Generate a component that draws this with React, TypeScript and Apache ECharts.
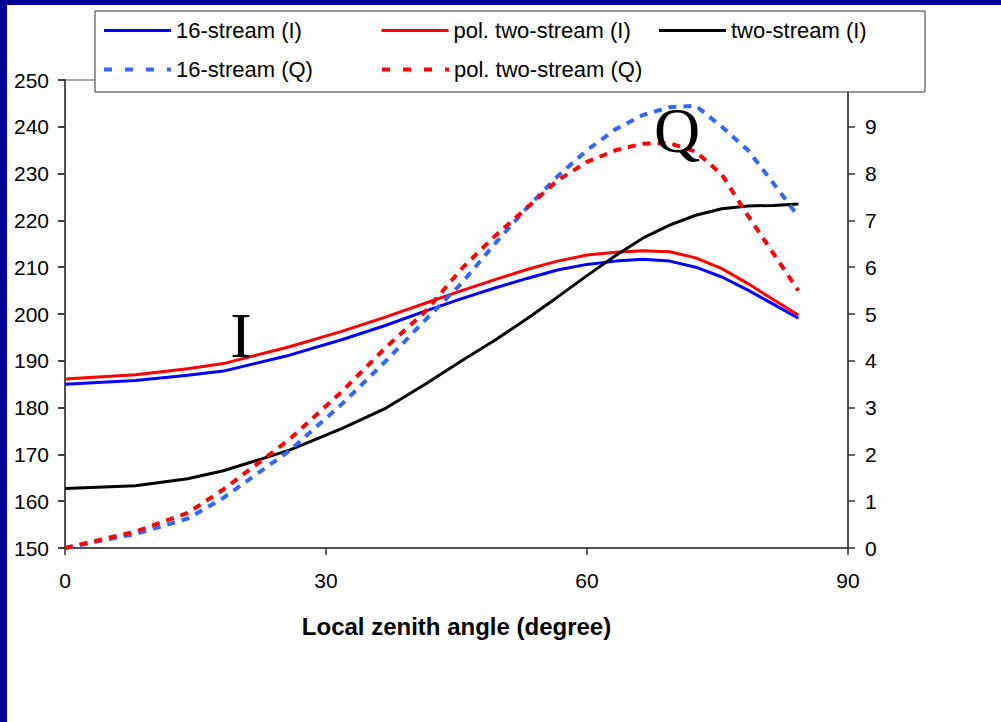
import React, { useEffect, useRef } from "react";
import * as echarts from "echarts";

// Local zenith angle (degree)
const ANGLES = [0, 8.1, 14.1, 18.2, 25.8, 31.8, 36.9, 41.4, 45.6, 49.5, 53.1, 56.6, 60, 63.3, 66.4, 69.5, 72.5, 75.5, 78.5, 81.4, 84.3];

// Intensity I (left axis)
const I_16STREAM = [185.0, 185.8, 186.9, 187.8, 191.2, 194.5, 197.6, 200.6, 203.3, 205.6, 207.6, 209.4, 210.6, 211.3, 211.7, 211.3, 210.0, 207.9, 205.1, 202.1, 199.1];
const I_POL_TWOSTREAM = [186.1, 187.0, 188.3, 189.4, 193.0, 196.3, 199.4, 202.3, 205.0, 207.4, 209.5, 211.3, 212.6, 213.2, 213.5, 213.3, 212.0, 209.7, 206.5, 203.1, 199.8];
const I_TWOSTREAM = [162.7, 163.3, 164.8, 166.5, 170.9, 175.5, 179.9, 185.0, 190.0, 194.5, 199.0, 203.6, 208.2, 212.5, 216.2, 219.0, 221.1, 222.5, 223.1, 223.2, 223.5];

// Polarization Q (right axis)
const Q_16STREAM = [0, 0.30, 0.63, 1.07, 2.08, 3.07, 4.00, 4.87, 5.66, 6.52, 7.27, 7.94, 8.50, 8.95, 9.25, 9.42, 9.45, 9.00, 8.50, 7.80, 7.08];
const Q_POL_TWOSTREAM = [0, 0.35, 0.75, 1.25, 2.32, 3.34, 4.29, 5.05, 5.97, 6.68, 7.27, 7.85, 8.25, 8.50, 8.64, 8.65, 8.47, 7.98, 7.10, 6.30, 5.50];

const SERIES_NAMES = ["16-stream (I)", "pol. two-stream (I)", "two-stream (I)", "16-stream (Q)", "pol. two-stream (Q)"];
const SERIES_COLORS = ["#0000FF", "#FF0000", "#000000", "#3366FF", "#FF0000"];
const X_TITLE = "Local zenith angle (degree)";

const SANS = "'Liberation Sans', Arial, sans-serif";
const SERIF = "'Liberation Serif', 'Times New Roman', serif";

export default function App() {
  const ref = useRef<HTMLDivElement>(null);

  useEffect(() => {
    document.body.style.margin = "0";
    const chart = echarts.init(ref.current!, null, { renderer: "svg" });
    const mk = (arr: number[]) => ANGLES.map((a, i) => [a, arr[i]]);
    const axisLineStyle = { color: "#333", width: 1.5 };
    const labelStyle = { fontSize: 21, color: "#000", fontFamily: SANS };
    const solid = (i: number) => ({ color: SERIES_COLORS[i], width: 3 });
    const dashed = (i: number) => ({ color: SERIES_COLORS[i], width: 4, type: [8, 7] });

    chart.setOption({
      animation: false,
      backgroundColor: "transparent",
      grid: {
        left: 65,
        right: 153,
        top: 80,
        bottom: 174,
        show: true,
        borderColor: "#555",
        borderWidth: 1,
        backgroundColor: "transparent",
      },
      legend: {
        left: 95,
        top: 11,
        width: 840,
        orient: "horizontal",
        padding: [7, 4, 10, 7],
        itemGap: 14,
        itemWidth: 67,
        itemHeight: 1,
        itemStyle: { opacity: 0 },
        lineStyle: { width: 3 },
        backgroundColor: "#fff",
        borderColor: "#333",
        borderWidth: 1,
        borderRadius: 0,
        textStyle: { fontSize: 22, color: "#000", fontFamily: SANS, width: 190, lineHeight: 25 },
        data: SERIES_NAMES.map((name, i) => ({
          name,
          lineStyle: i < 3 ? { width: 3 } : { width: 4, type: [8, 13] },
        })),
      },
      xAxis: {
        type: "value",
        min: 0,
        max: 90,
        interval: 30,
        axisLine: { show: true, onZero: false, lineStyle: axisLineStyle },
        axisTick: { show: true, length: 7, lineStyle: axisLineStyle },
        axisLabel: { ...labelStyle, margin: 22 },
        splitLine: { show: false },
        name: X_TITLE,
        nameLocation: "middle",
        nameGap: 66,
        nameTextStyle: { fontSize: 24, fontWeight: "bold", color: "#000", fontFamily: SANS },
      },
      yAxis: [
        {
          type: "value",
          position: "left",
          min: 150,
          max: 250,
          interval: 10,
          axisLine: { show: true, onZero: false, lineStyle: axisLineStyle },
          axisTick: { show: true, length: 7, lineStyle: axisLineStyle },
          axisLabel: { ...labelStyle, margin: 16 },
          splitLine: { show: false },
        },
        {
          type: "value",
          position: "right",
          min: 0,
          max: 10,
          interval: 1,
          axisLine: { show: true, onZero: false, lineStyle: axisLineStyle },
          axisTick: { show: true, length: 7, lineStyle: axisLineStyle },
          axisLabel: { ...labelStyle, margin: 17, showMaxLabel: false },
          splitLine: { show: false },
        },
        {
          type: "value",
          position: "right",
          min: 0,
          max: 10,
          interval: 1,
          axisLine: { show: false },
          axisTick: { show: true, inside: true, length: 7, lineStyle: axisLineStyle },
          axisLabel: { show: false },
          splitLine: { show: false },
        },
      ],
      series: [
        { name: SERIES_NAMES[0], type: "line", yAxisIndex: 0, data: mk(I_16STREAM), symbol: "none", lineStyle: solid(0), itemStyle: { color: SERIES_COLORS[0] }, z: 2 },
        { name: SERIES_NAMES[1], type: "line", yAxisIndex: 0, data: mk(I_POL_TWOSTREAM), symbol: "none", lineStyle: solid(1), itemStyle: { color: SERIES_COLORS[1] }, z: 2 },
        { name: SERIES_NAMES[2], type: "line", yAxisIndex: 0, data: mk(I_TWOSTREAM), symbol: "none", lineStyle: solid(2), itemStyle: { color: SERIES_COLORS[2] }, z: 3 },
        { name: SERIES_NAMES[3], type: "line", yAxisIndex: 1, data: mk(Q_16STREAM), symbol: "none", lineStyle: dashed(3), itemStyle: { color: SERIES_COLORS[3] }, z: 4 },
        { name: SERIES_NAMES[4], type: "line", yAxisIndex: 1, data: mk(Q_POL_TWOSTREAM), symbol: "none", lineStyle: dashed(4), itemStyle: { color: SERIES_COLORS[4] }, z: 5 },
      ],
      graphic: [
        {
          type: "text",
          x: 241,
          y: 335,
          z: 10,
          style: { text: "I", fontSize: 64, fontFamily: SERIF, fill: "#000", align: "center", verticalAlign: "middle" },
        },
        {
          type: "text",
          x: 677,
          y: 130,
          z: 10,
          style: { text: "Q", fontSize: 64, fontFamily: SERIF, fill: "#000", align: "center", verticalAlign: "middle" },
        },
      ],
    });
    return () => chart.dispose();
  }, []);

  return (
    <div style={{ position: "fixed", left: 0, top: 0, width: 1001, height: 722, background: "#fff", overflow: "hidden" }}>
      <div style={{ position: "absolute", left: 0, top: 0, width: 1001, height: 5, background: "#000099" }} />
      <div style={{ position: "absolute", left: 0, top: 0, width: 7, height: 722, background: "#000099" }} />
      <div ref={ref} style={{ position: "absolute", left: 0, top: 0, width: 1001, height: 722 }} />
    </div>
  );
}
